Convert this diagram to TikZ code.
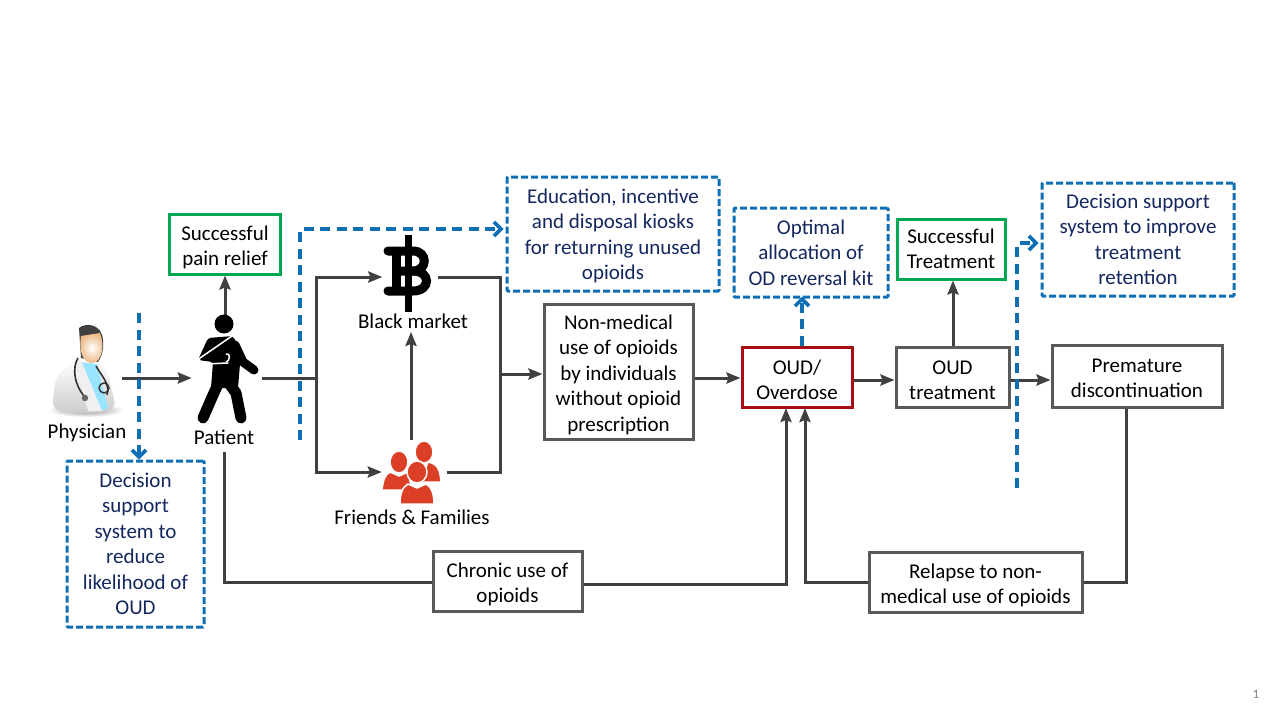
\documentclass[tikz,border=0pt]{standalone}
\usepackage{fontspec}
\setmainfont{Carlito}
\usepackage{tikz}
\usetikzlibrary{positioning, arrows.meta, calc}
\definecolor{linegrey}{HTML}{404040}
\definecolor{boxgrey}{HTML}{595959}
\definecolor{goodgreen}{HTML}{00A651}
\definecolor{alertred}{HTML}{A50E14}
\definecolor{ideablue}{HTML}{0F6FB5}
\definecolor{ideatext}{HTML}{14275E}
\definecolor{crowdred}{HTML}{DB4026}
\newcommand{\lift}[1]{\rule{0pt}{#1}}

\begin{document}
\begin{tikzpicture}[x=1pt, y=-1pt, font=\fontsize{21}{25.5}\selectfont,
    procbox/.style={draw=boxgrey, line width=3pt, align=center, inner sep=0pt},
    goodbox/.style={procbox, draw=goodgreen},
    alertbox/.style={procbox, draw=alertred},
    ideabox/.style={draw=ideablue, line width=3pt, dash pattern=on 7pt off 3pt,
      rounded corners=1pt, align=center, inner sep=0pt, text=ideatext},
    icon/.style={inner sep=0pt},
    flow/.style={draw=linegrey, line width=3pt, -{Stealth[length=14pt, width=11pt, inset=2pt]}},
    wire/.style={draw=linegrey, line width=3pt},
    idea/.style={draw=ideablue, line width=3.3pt, dash pattern=on 10pt off 6.5pt,
      -{Straight Barb[length=7pt, width=14pt, line width=3.6pt]}}]
    \useasboundingbox (0,0) rectangle (1280,720);
    % icon slots
    \node[icon, minimum width=74pt, minimum height=100pt] (physician) at (85,378) {};
    \node[icon, minimum width=70pt, minimum height=126pt] (patient) at (227,378) {};
    \node[icon, minimum width=55pt, minimum height=78pt] (market) at (410,277) {};
    \node[icon, minimum width=65pt, minimum height=64pt] (crowd) at (414.5,472) {};
    % labels
    \node (physicianlbl) at (87,433) {Physician};
    \node (patientlbl) at (224,437) {Patient};
    \node (marketlbl) at (413,321) {Black market};
    \node (crowdlbl) at (412,517) {Friends \& Families};
    % boxes
    \node[goodbox, minimum width=111pt, minimum height=60pt] (pain) at (225,244) {\lift{21pt}Successful\\pain relief};
    \node[procbox, minimum width=149pt, minimum height=135pt] (nonmedical) at (618.5,371.5)
      {\lift{21pt}Non-medical\\use of opioids\\by individuals\\without opioid\\prescription};
    \node[alertbox, minimum width=110pt, minimum height=60pt] (oud) at (797,377) {\lift{20pt}OUD/\\Overdose};
    \node[procbox, minimum width=113pt, minimum height=60pt] (treatment) at (952.5,377) {\lift{20pt}OUD\\treatment};
    \node[goodbox, minimum width=108pt, minimum height=60pt] (success) at (951,249) {Successful\\Treatment};
    \node[procbox, minimum width=170pt, minimum height=62pt] (premature) at (1137,376) {\lift{18pt}Premature\\discontinuation};
    \node[procbox, minimum width=149pt, minimum height=60pt] (chronic) at (507.5,581) {\lift{21pt}Chronic use of\\opioids};
    \node[procbox, minimum width=213pt, minimum height=60pt] (relapse) at (975.5,582) {\lift{21pt}Relapse to non-\\medical use of opioids};
    \node[ideabox, minimum width=137pt, minimum height=166pt] (support) at (135.5,544)
      {Decision\\support\\system to\\reduce\\likelihood of\\OUD};
    \node[ideabox, minimum width=212pt, minimum height=114pt] (kiosk) at (613,234)
      {\lift{18pt}Education, incentive\\and disposal kiosks\\for returning unused\\opioids};
    \node[ideabox, minimum width=154pt, minimum height=89pt] (naloxone) at (811,252.5)
      {Optimal\\allocation of\\OD reversal kit};
    \node[ideabox, minimum width=192pt, minimum height=113pt] (retention) at (1138,239.5)
      {Decision support\\system to improve\\treatment\\retention};
    \node[text=black!50, font=\fontsize{13}{15}\selectfont] (pagenum) at (1256,694) {1};
    % junctions
    \coordinate (split) at (316,378);
    \coordinate (merge) at (500,374);
    \coordinate (oudleft) at (786,408);
    \coordinate (oudright) at (805,408);
    \coordinate (tapsupport) at (139,313);
    \coordinate (tapkiosk) at (300,440);
    \coordinate (tapretention) at (1017,488);
    % main flow
    \draw[flow] (physician.east) -- (patient.west);
    \draw[flow] (patient.north -| pain.south) -- (pain.south);
    \draw[wire] (patient.east) -- (split);
    \draw[flow] (split) |- (market.west);
    \draw[flow] (split) |- (crowd.west);
    \draw[flow] (crowd.north -| 411,0) -- (marketlbl.south -| 411,0);
    \draw[wire] (market.east) -| (merge);
    \draw[wire] (crowd.east) -| (merge);
    \draw[flow] (merge) -- (merge -| nonmedical.west);
    \draw[flow] (nonmedical.east |- 0,378) -- (oud.west |- 0,378);
    \draw[flow] (oud.east |- 0,380) -- (treatment.west |- 0,380);
    \draw[flow] (treatment.east |- 0,380) -- (premature.west |- 0,380);
    \draw[flow] (treatment.north -| 953,0) -- (success.south -| 953,0);
    \draw[wire] ([yshift=-4pt]patientlbl.south) |- ([yshift=-1pt]chronic.west);
    \draw[flow] ([yshift=-3pt]chronic.east) -| (oudleft);
    \draw[wire] (premature.south -| 1126,0) |- (relapse.east);
    \draw[flow] (relapse.west) -| (oudright);
    % interventions
    \draw[idea] (tapsupport) -- (tapsupport |- support.north);
    \draw[idea] (tapkiosk) |- ([xshift=-2pt]kiosk.west |- 0,229);
    \draw[idea] (oud.north -| 802,0) -- ([yshift=2pt]naloxone.south -| 802,0);
    \draw[idea] (tapretention) |- ([xshift=-2pt]retention.west |- 0,243);
    % physician
    \shade[inner color=black!45, outer color=white] (86,410) ellipse (38 and 7);
    \shade[top color=white, bottom color=black!20, rounded corners=7pt]
      (52,408) -- (56,376) -- (76,360) -- (98,360) -- (108,372) -- (116,408) -- (100,413) -- (65,413) -- cycle;
    \fill[blue!25!cyan!40!white] (80,362) -- (97,364) -- (108,408) -- (100,411) -- cycle;
    \fill[black!6] (74,361) -- (81,360) -- (102,411) -- (88,411) -- cycle;
    \fill[black!75] (79,328) .. controls (86,322) and (102,324) .. (103,340)
      .. controls (104,350) and (101,358) .. (98,362) -- (81,358) -- cycle;
    \shade[inner color=white, outer color=orange!45!brown!55]
      (92,363) .. controls (82,363) and (79,350) .. (81,336) -- (100,333)
      .. controls (105,345) and (102,363) .. (92,363) -- cycle;
    \draw[black!80, line width=1.6pt] (78,358) .. controls (72,368) and (74,385) .. (85,397);
    \draw[black!80, line width=1.6pt] (96,366) .. controls (103,378) and (110,384) .. (107,395);
    \draw[black!80, line width=1.4pt] (104,388) circle (5);
    \fill[black!60] (85,398) circle (3.2);
    % patient
    \fill[black] (224,324) circle (9.5);
    \fill[black, rounded corners=3pt] (208,338) -- (233,336) -- (241,352) -- (238,388) -- (211,388) -- (213,362) -- (198,360) -- cycle;
    \draw[black, line width=9pt, line cap=round, line join=round] (235,345) -- (243,362) -- (254,370);
    \draw[black, line width=11pt, line cap=round, line join=round] (219,382) -- (213,395) -- (203,418);
    \draw[black, line width=11pt, line cap=round, line join=round] (228,382) -- (236,393) -- (241,418);
    \draw[white, line width=1.5pt, line cap=round] (232,336) -- (200,358) .. controls (197,363) and (199,364) .. (205,364) -- (228,363);
    \draw[white, line width=1.5pt] (226,354) .. controls (231,352) and (230,362) .. (226,362);
    % market icon
    \draw[black, line width=7pt] (408,235) -- (408,312);
    \draw[black, line width=9pt, line cap=round] (388,251) -- (413,251)
      .. controls (428,251) and (428,271) .. (413,271) -- (398,271);
    \draw[black, line width=9pt, line cap=round] (413,271)
      .. controls (431,271) and (431,291) .. (413,291) -- (388,291);
    \draw[black, line width=9pt] (396,251) -- (396,291);
    % crowd icon
    \tikzset{person/.style={fill=crowdred, draw=white, line width=1.5pt}}
    \path[person] (424,452) ellipse (9 and 11);
    \path[person] (428,462) .. controls (438,464) and (440,470) .. (441,482) -- (420,482) -- cycle;
    \path[person] (399,462) ellipse (9 and 11);
    \path[person] (390,472) .. controls (384,475) and (383,482) .. (382,490) -- (412,490) -- (408,472) -- (399,476) -- cycle;
    \path[person] (417,472) ellipse (10 and 11);
    \path[person] (408,484) .. controls (402,487) and (400,495) .. (400,504) -- (434,504)
      .. controls (434,495) and (432,487) .. (426,484) -- (417,488) -- cycle;
  \end{tikzpicture}
\end{document}
